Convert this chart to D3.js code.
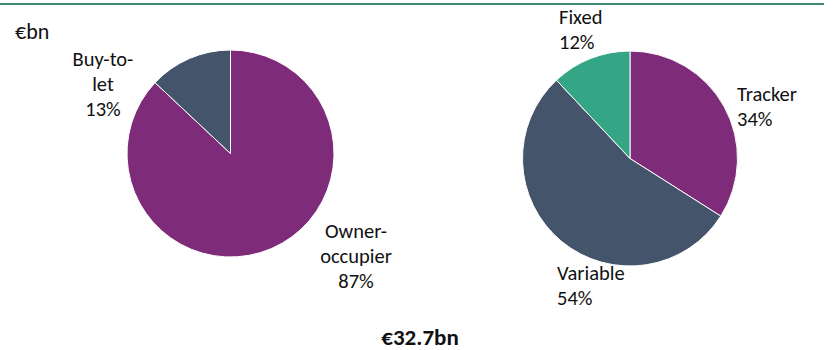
<!DOCTYPE html>
<html>
<head>
<meta charset="utf-8">
<script src="https://cdn.jsdelivr.net/npm/d3@7"></script>
<style>
  html, body { margin: 0; padding: 0; background: #fff; }
  svg text { font-family: Carlito, Calibri, Lato, sans-serif; fill: #111; }
</style>
</head>
<body>
<svg id="chart" width="834" height="350"></svg>
<script>
// Mortgage book by borrower type
const borrowerTypes = ["Owner-occupier", "Buy-to-let"];
const borrowerShares = [87, 13];
// Mortgage book by rate type
const rateTypes = ["Tracker", "Variable", "Fixed"];
const rateShares = [34, 54, 12];

const unitLabel = "€bn";
const totalLabel = "€32.7bn";

const colors = {
  "Owner-occupier": "#7E2B7A",
  "Buy-to-let": "#44546A",
  "Tracker": "#7E2B7A",
  "Variable": "#44546A",
  "Fixed": "#34A685"
};

const svg = d3.select("#chart");

// green rule across the top
svg.append("line")
  .attr("x1", 0).attr("x2", 824)
  .attr("y1", 4).attr("y2", 4)
  .attr("stroke", "#3A8B6F").attr("stroke-width", 2);

svg.append("text")
  .attr("x", 15).attr("y", 39)
  .attr("font-size", 22)
  .text(unitLabel);

const pie = d3.pie().sort(null).value(d => d.value);

function drawPie(names, values, cx, cy, r) {
  const data = names.map((n, i) => ({ name: n, value: values[i] }));
  const arc = d3.arc().innerRadius(0).outerRadius(r);
  const g = svg.append("g").attr("transform", `translate(${cx},${cy})`);
  g.selectAll("path")
    .data(pie(data))
    .join("path")
    .attr("d", arc)
    .attr("fill", d => colors[d.data.name])
    .attr("stroke", "#fff")
    .attr("stroke-width", 1);
  return data;
}

drawPie(borrowerTypes, borrowerShares, 230.5, 153.5, 103.5);
drawPie(rateTypes, rateShares, 630, 158.5, 107.5);

// multi-line data labels
function label(lines, x, y, anchor) {
  const t = svg.append("text")
    .attr("font-size", 20.5)
    .attr("text-anchor", anchor);
  lines.forEach((s, i) => {
    t.append("tspan").attr("x", x).attr("y", y + i * 25).text(s);
  });
}

const pct = v => v + "%";
label(["Buy-to-", "let", pct(borrowerShares[1])], 103, 66, "middle");
label(["Owner-", "occupier", pct(borrowerShares[0])], 356, 238, "middle");
label([rateTypes[2], pct(rateShares[2])], 559, 24, "start");
label([rateTypes[0], pct(rateShares[0])], 737, 101, "start");
label([rateTypes[1], pct(rateShares[1])], 557, 280, "start");

svg.append("text")
  .attr("x", 420).attr("y", 345)
  .attr("text-anchor", "middle")
  .attr("font-size", 23)
  .attr("font-weight", "bold")
  .text(totalLabel);
</script>
</body>
</html>
